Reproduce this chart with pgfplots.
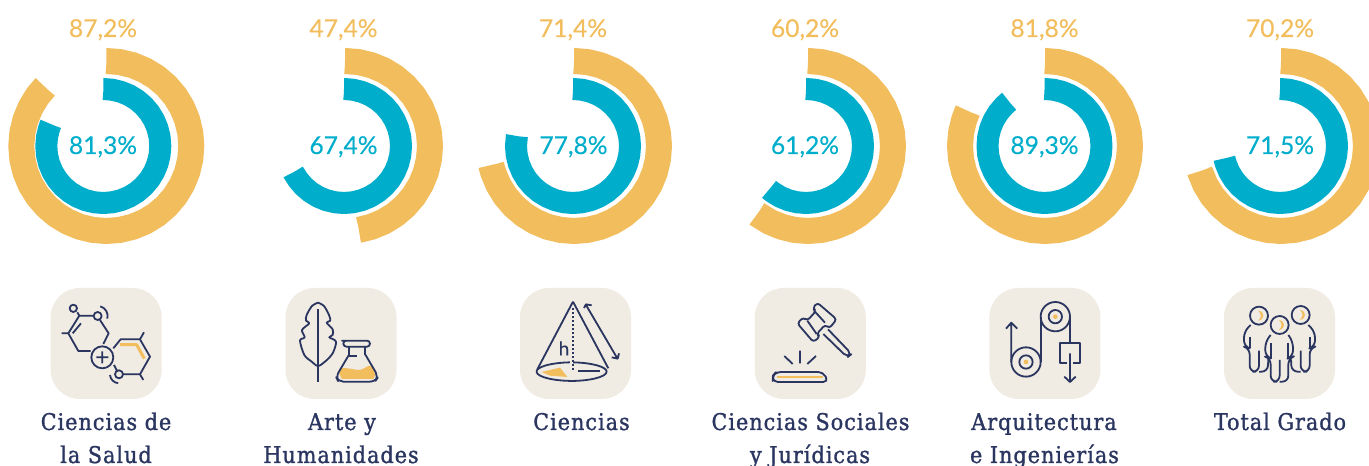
\documentclass[border=0pt]{standalone}
\usepackage{pgfplots}
\usepgfplotslibrary{polar}
\pgfplotsset{compat=1.18}
\usepackage{fontspec}
\setmainfont[FakeBold=0.25]{Lato}
\newfontfamily\numf[FakeBold=0.25]{Lato}
\newfontfamily\slab[LetterSpace=4.5,FakeBold=1.3]{DejaVu Serif Condensed}
\definecolor{ora}{HTML}{F2BD5C}
\definecolor{blu}{HTML}{00ADCB}
\definecolor{nav}{HTML}{2A3560}
\definecolor{tan}{HTML}{F0EBE3}
\pgfplotsset{
 donut/.style={hide axis,scale only axis,width=200pt,height=200pt,xmin=0,xmax=360,ymin=0,ymax=100,anchor=center,clip=false,
   x filter/.code={\pgfmathparse{90-3.6*\pgfmathresult}}},
 oring/.style={color=ora,line width=26pt,no markers,line cap=butt,line join=round},
 bring/.style={color=blu,line width=22pt,no markers,line cap=butt,line join=round},
}
\newcommand{\pct}[4]{\node[text=#1,font=\fontsize{24.6}{28}\numf,anchor=base] at (#2pt,#3pt) {#4};}
\newcommand{\lab}[3]{\node[text=nav,font=\fontsize{23}{25}\slab,anchor=base] at (#1pt,#2pt) {#3};}
\newcommand{\tile}[1]{\fill[tan,rounded corners=29pt] (#1pt,67pt) rectangle ++(111pt,111pt);}
\begin{document}
\begin{tikzpicture}[x=1pt,y=1pt]
\useasboundingbox (0,0) rectangle (1369,466);
\clip (0,0) rectangle (1369,466);
% 1
\begin{polaraxis}[donut,at={(106.3pt,320pt)}]
\addplot[oring] coordinates {(0,85)(0.05,85)(2.5,85)(5,85)(7.5,85)(10,85)(12.5,85)(15,85)(17.5,85)(20,85)(22.5,85)(25,85)(27.5,85)(30,85)(32.5,85)(35,85)(37.5,85)(40,85)(42.5,85)(45,85)(47.5,85)(50,85)(52.5,85)(55,85)(57.5,85)(60,85)(62.5,85)(65,85)(67.5,85)(70,85)(72.5,85)(75,85)(77.5,85)(80,85)(82.5,85)(85,85)(87.15,85)(87.2,85)};
\end{polaraxis}
\begin{polaraxis}[donut,at={(103.3pt,320pt)}]
\addplot[bring] coordinates {(0,57)(0.05,57)(2.5,57)(5,57)(7.5,57)(10,57)(12.5,57)(15,57)(17.5,57)(20,57)(22.5,57)(25,57)(27.5,57)(30,57)(32.5,57)(35,57)(37.5,57)(40,57)(42.5,57)(45,57)(47.5,57)(50,57)(52.5,57)(55,57)(57.5,57)(60,57)(62.5,57)(65,57)(67.5,57)(70,57)(72.5,57)(75,57)(77.5,57)(80,57)(81.25,57)(81.3,57)};
\end{polaraxis}
% 2
\begin{polaraxis}[donut,at={(345pt,320pt)}]
\addplot[oring] coordinates {(0,85)(0.05,85)(2.5,85)(5,85)(7.5,85)(10,85)(12.5,85)(15,85)(17.5,85)(20,85)(22.5,85)(25,85)(27.5,85)(30,85)(32.5,85)(35,85)(37.5,85)(40,85)(42.5,85)(45,85)(47.35,85)(47.4,85)};
\end{polaraxis}
\begin{polaraxis}[donut,at={(344pt,320pt)}]
\addplot[bring] coordinates {(0,57)(0.05,57)(2.5,57)(5,57)(7.5,57)(10,57)(12.5,57)(15,57)(17.5,57)(20,57)(22.5,57)(25,57)(27.5,57)(30,57)(32.5,57)(35,57)(37.5,57)(40,57)(42.5,57)(45,57)(47.5,57)(50,57)(52.5,57)(55,57)(57.5,57)(60,57)(62.5,57)(65,57)(67.35,57)(67.4,57)};
\end{polaraxis}
% 3
\begin{polaraxis}[donut,at={(574pt,320pt)}]
\addplot[oring] coordinates {(0,85)(0.05,85)(2.5,85)(5,85)(7.5,85)(10,85)(12.5,85)(15,85)(17.5,85)(20,85)(22.5,85)(25,85)(27.5,85)(30,85)(32.5,85)(35,85)(37.5,85)(40,85)(42.5,85)(45,85)(47.5,85)(50,85)(52.5,85)(55,85)(57.5,85)(60,85)(62.5,85)(65,85)(67.5,85)(70,85)(71.35,85)(71.4,85)};
\end{polaraxis}
\begin{polaraxis}[donut,at={(573pt,320pt)}]
\addplot[bring] coordinates {(0,57)(0.05,57)(2.5,57)(5,57)(7.5,57)(10,57)(12.5,57)(15,57)(17.5,57)(20,57)(22.5,57)(25,57)(27.5,57)(30,57)(32.5,57)(35,57)(37.5,57)(40,57)(42.5,57)(45,57)(47.5,57)(50,57)(52.5,57)(55,57)(57.5,57)(60,57)(62.5,57)(65,57)(67.5,57)(70,57)(72.5,57)(75,57)(77.75,57)(77.8,57)};
\end{polaraxis}
% 4
\begin{polaraxis}[donut,at={(808pt,320pt)}]
\addplot[oring] coordinates {(0,85)(0.05,85)(2.5,85)(5,85)(7.5,85)(10,85)(12.5,85)(15,85)(17.5,85)(20,85)(22.5,85)(25,85)(27.5,85)(30,85)(32.5,85)(35,85)(37.5,85)(40,85)(42.5,85)(45,85)(47.5,85)(50,85)(52.5,85)(55,85)(57.5,85)(60.15,85)(60.2,85)};
\end{polaraxis}
\begin{polaraxis}[donut,at={(806pt,320pt)}]
\addplot[bring] coordinates {(0,57)(0.05,57)(2.5,57)(5,57)(7.5,57)(10,57)(12.5,57)(15,57)(17.5,57)(20,57)(22.5,57)(25,57)(27.5,57)(30,57)(32.5,57)(35,57)(37.5,57)(40,57)(42.5,57)(45,57)(47.5,57)(50,57)(52.5,57)(55,57)(57.5,57)(60,57)(61.15,57)(61.2,57)};
\end{polaraxis}
% 5
\begin{polaraxis}[donut,at={(1045pt,320pt)}]
\addplot[oring] coordinates {(0,85)(0.05,85)(2.5,85)(5,85)(7.5,85)(10,85)(12.5,85)(15,85)(17.5,85)(20,85)(22.5,85)(25,85)(27.5,85)(30,85)(32.5,85)(35,85)(37.5,85)(40,85)(42.5,85)(45,85)(47.5,85)(50,85)(52.5,85)(55,85)(57.5,85)(60,85)(62.5,85)(65,85)(67.5,85)(70,85)(72.5,85)(75,85)(77.5,85)(80,85)(81.75,85)(81.8,85)};
\end{polaraxis}
\begin{polaraxis}[donut,at={(1044.5pt,320pt)}]
\addplot[bring] coordinates {(0,57)(0.05,57)(2.5,57)(5,57)(7.5,57)(10,57)(12.5,57)(15,57)(17.5,57)(20,57)(22.5,57)(25,57)(27.5,57)(30,57)(32.5,57)(35,57)(37.5,57)(40,57)(42.5,57)(45,57)(47.5,57)(50,57)(52.5,57)(55,57)(57.5,57)(60,57)(62.5,57)(65,57)(67.5,57)(70,57)(72.5,57)(75,57)(77.5,57)(80,57)(82.5,57)(85,57)(87.5,57)(89.25,57)(89.3,57)};
\end{polaraxis}
% 6
\begin{polaraxis}[donut,at={(1281pt,320pt)}]
\addplot[oring] coordinates {(0,85)(0.05,85)(2.5,85)(5,85)(7.5,85)(10,85)(12.5,85)(15,85)(17.5,85)(20,85)(22.5,85)(25,85)(27.5,85)(30,85)(32.5,85)(35,85)(37.5,85)(40,85)(42.5,85)(45,85)(47.5,85)(50,85)(52.5,85)(55,85)(57.5,85)(60,85)(62.5,85)(65,85)(67.5,85)(70.15,85)(70.2,85)};
\end{polaraxis}
\begin{polaraxis}[donut,at={(1280pt,320pt)}]
\addplot[bring] coordinates {(0,57)(0.05,57)(2.5,57)(5,57)(7.5,57)(10,57)(12.5,57)(15,57)(17.5,57)(20,57)(22.5,57)(25,57)(27.5,57)(30,57)(32.5,57)(35,57)(37.5,57)(40,57)(42.5,57)(45,57)(47.5,57)(50,57)(52.5,57)(55,57)(57.5,57)(60,57)(62.5,57)(65,57)(67.5,57)(70,57)(71.45,57)(71.5,57)};
\end{polaraxis}
% value labels
\pct{ora}{103}{429}{87,2\%}\pct{ora}{343.5}{429}{47,4\%}\pct{ora}{573}{429}{71,4\%}\pct{ora}{805}{429}{60,2\%}\pct{ora}{1044.5}{429}{81,8\%}\pct{ora}{1280}{429}{70,2\%}
\pct{blu}{103}{312}{81,3\%}\pct{blu}{343.5}{312}{67,4\%}\pct{blu}{573.5}{312}{77,8\%}\pct{blu}{805}{312}{61,2\%}\pct{blu}{1044.5}{312}{89,3\%}\pct{blu}{1280}{312}{71,5\%}
% tiles
\tile{50.7}\tile{285.5}\tile{520}\tile{754.8}\tile{989.4}\tile{1224}
% category labels
\lab{106}{36}{Ciencias de}\lab{106}{3}{la Salud}
\lab{342}{36}{Arte y}\lab{341}{3}{Humanidades}
\lab{581.5}{36}{Ciencias}
\lab{810.5}{36}{Ciencias Sociales}\lab{810}{3}{y Jurídicas}
\lab{1044}{36}{Arquitectura}\lab{1044.5}{3}{e Ingenierías}
\lab{1280}{36}{Total Grado}
% icon 1
\begin{scope}[shift={(0,186)},x=0.3333pt,y=-0.3333pt,draw=nav,line width=1.8pt,line join=round]
\draw (220,85) circle[radius=11] (232,97)--(238,107)--(281,107) (293,108) circle[radius=12];
\draw (238,107)--(205,160)--(235,213)--(272,213) (185,160)--(205,160) (243,130)--(218,160);
\draw (300,120)--(326,160)--(310,192);
\draw (307,232) circle[radius=33] (289,232)--(325,232) (307,214)--(307,250);
\draw (340,205)--(362,178)--(420,178)--(450,230)--(420,283)--(370,283) (357,283) circle[radius=12] (342,255)--(351,272);
\draw (420,178)--(432,157) (420,283)--(430,300);
\draw (300.8,79) arc[start angle=-75,end angle=15,radius=30];
\draw (330,285) arc[start angle=175,end angle=95,radius=27];
\draw[ora,line width=3pt] (360,194)--(410,194)--(433,236);
\end{scope}
% icon 2
\begin{scope}[shift={(250,186)},x=0.3333pt,y=-0.3333pt,draw=nav,line width=1.8pt,line join=round]
\fill[ora] plot[smooth] coordinates {(268,282)(276,265)(300,266)(330,270)(362,257)(376,285)} -- (370,297)--(276,297)--cycle;
\draw (204,88)--(204,305);
\draw plot[smooth] coordinates {(204,68)(222,78)(237,105)(241,122)(230,128)(248,148)(248,165)(238,172)(258,185)(248,220)(225,245)(204,258)(185,245)(163,225)(150,182)(164,172)(156,150)(178,130)(168,122)(170,105)(186,78)(204,68)};
\draw[rounded corners=3pt] (285,182)--(360,182)--(360,200)--(280,200)--(280,182)--cycle;
\draw (296,200)--(296,228) (345,200)--(345,225) (296,228)--(322,228);
\draw[rounded corners=5pt] (296,226)--(258,290)--(265,305)--(375,305)--(385,290)--(345,222);
\end{scope}
% icon 3
\begin{scope}[shift={(490,186)},x=0.3333pt,y=-0.3333pt,draw=nav,line width=1.8pt,line join=round]
\fill[ora] (155,276)--(210,263)--(232,291)--(180,287)--cycle;
\draw (249,65)--(142,268) (249,65)--(355,265);
\draw (240,247) arc[start angle=265,end angle=90,x radius=110,y radius=28];
\draw (240,303) arc[start angle=90,end angle=-85,x radius=110,y radius=28];
\draw[dotted,line width=2pt] (249,85)--(249,275);
\draw (265,274)--(330,274);
\draw (288,75)--(382,235) (282,84)--(288,73)--(305,76) (365,232)--(383,236)--(387,220);
\node[text=nav,font=\fontsize{19}{20}\selectfont] at (222,205) {h};
\end{scope}
% icon 4
\begin{scope}[shift={(700,186)},x=0.3333pt,y=-0.3333pt,draw=nav,line width=1.8pt,line join=round]
\draw[rounded corners=3pt] (352,68)--(410,118)--(388,145)--(376,134)--(350,162)--(360,170)--(340,186)--(292,130)--(310,112)--(322,122)--(348,93)--(338,85)--cycle;
\draw (345,95)--(375,128) (322,122)--(350,162);
\draw[rounded corners=5pt] (370,162)--(442,232)--(455,222)--(384,148);
\draw (253,228)--(278,252) (300,212)--(300,250) (348,228)--(322,252);
\draw[rounded corners=5pt] (218,306)--(218,288)--(228,276)--(370,276)--(385,306)--cycle;
\draw[ora,line width=1.8pt] (232,291)--(370,291);
\end{scope}
% icon 5
\begin{scope}[shift={(950,186)},x=0.3333pt,y=-0.3333pt,draw=nav,line width=1.8pt,line join=round]
\draw (316,110) circle[radius=44] (316,110) circle[radius=20];
\draw (228,246) circle[radius=44] (228,246) circle[radius=20];
\fill[ora] (316,110) circle[radius=7] (228,246) circle[radius=7];
\draw (184,246)--(184,130) (168,146)--(184,128)--(202,146);
\draw (272,110)--(272,246) (360,110)--(360,190);
\draw (352,250)--(330,250)--(330,190)--(390,190)--(390,250)--(368,250);
\draw (360,220)--(360,305) (343,290)--(360,306)--(377,290);
\end{scope}
% icon 6
\begin{scope}[shift={(1189,186)},x=0.3333pt,y=-0.3333pt,draw=nav,line width=1.8pt,line join=round]
\fill[ora] (208,92) .. controls (228,95) and (228,118) .. (208,122) .. controls (218,112) and (218,102) .. (208,92);
\fill[ora] (333,90) .. controls (353,93) and (353,116) .. (333,120) .. controls (343,110) and (343,100) .. (333,90);
\fill[ora] (270,120) .. controls (290,123) and (290,146) .. (270,150) .. controls (280,140) and (280,130) .. (270,120);
\draw (210,107) circle[radius=27] (335,105) circle[radius=27] (272,135) circle[radius=27];
\draw[rounded corners=6pt] (185,135)--(165,155)--(165,200)--(182,205)--(182,275)--(210,275)--(210,212);
\draw[rounded corners=6pt] (210,275)--(236,275)--(238,238);
\draw (182,170)--(182,205);
\draw[rounded corners=6pt] (358,135)--(378,155)--(378,200)--(362,205)--(362,275)--(335,275)--(335,212);
\draw[rounded corners=6pt] (335,275)--(308,275)--(306,238);
\draw (362,170)--(362,205);
\draw[rounded corners=6pt] (245,165)--(229,185)--(229,230)--(245,235)--(245,305)--(272,305)--(272,240);
\draw[rounded corners=6pt] (272,305)--(298,305)--(298,235)--(312,230)--(312,185)--(298,165);
\draw (245,190)--(245,235) (298,190)--(298,235);
\end{scope}
\end{tikzpicture}
\end{document}
